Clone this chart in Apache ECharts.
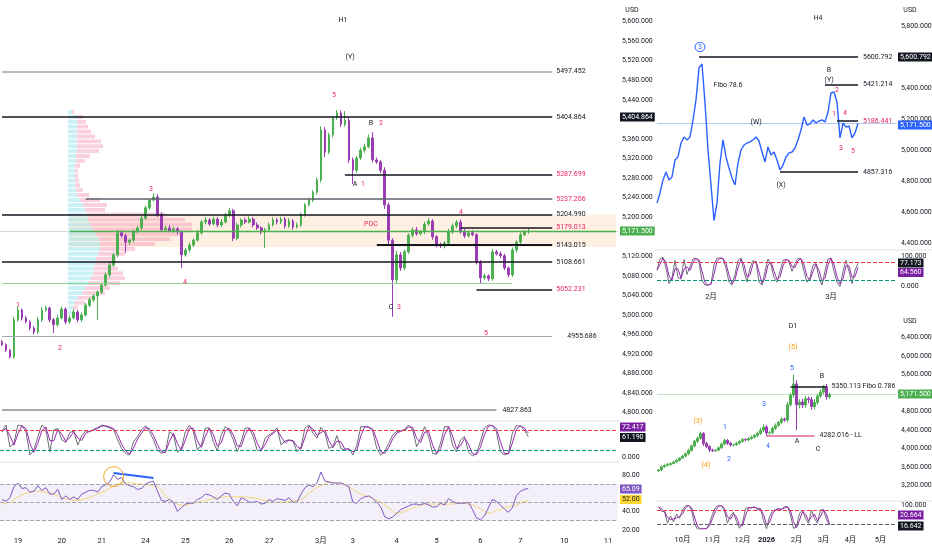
<!DOCTYPE html>
<html><head><meta charset="utf-8">
<script src="https://cdn.jsdelivr.net/npm/echarts@6.0.0/dist/echarts.min.js"></script>
<style>html,body{margin:0;padding:0;background:#fff;}#chart{width:932px;height:550px;}</style>
</head><body><div id="chart"></div>
<script>
// ================= DATA =================
// H1 (each bar ~2h), opens follow previous close
const h1FirstOpen = 4945;
const h1Close = [4939,4928,4914,4990,5010,4994,4986,4973,4965,4990,
 5010,5014,4990,4980,4994,5012,4986,4994,5006,4990,
 5000,5020,5031,5039,5047,5061,5082,5102,5123,5168,
 5162,5149,5153,5170,5178,5198,5219,5235,5241,5205,
 5174,5178,5172,5176,5170,5123,5133,5143,5153,5168,
 5190,5194,5186,5196,5184,5190,5204,5213,5157,5184,
 5194,5190,5196,5184,5178,5170,5174,5184,5194,5190,
 5196,5182,5192,5180,5184,5206,5225,5235,5251,5276,
 5378,5333,5368,5403,5413,5390,5398,5317,5296,5321,
 5337,5344,5362,5317,5313,5296,5225,5153,5072,5123,
 5096,5129,5163,5174,5166,5170,5186,5192,5160,5143,
 5141,5147,5170,5182,5190,5170,5162,5168,5164,5108,
 5076,5080,5074,5129,5125,5121,5096,5082,5133,5149,
 5164,5170,5171.5];
const h1UpWick = [4,3,2,6,8,3,4,3,4,5, 6,5,3,4,6,5,3,5,6,4, 5,4,5,4,3,4,5,4,3,6, 5,4,3,5,4,5,4,3,8,6,
 5,4,6,5,4,3,4,5,4,6, 5,6,4,5,4,6,5,6,4,5, 4,5,6,4,5,3,4,5,6,4, 5,4,6,4,5,3,4,5,4,5,
 8,6,5,4,6,5,19,6,5,4, 5,6,7,12,5,4,6,5,4,8, 6,5,4,5,6,4,5,6,4,3, 5,4,6,5,4,5,6,4,5,3,
 4,5,3,6,4,5,4,3,5,4, 5,4,6];
const h1LowWick = [3,4,3,3,4,5,3,4,5,3, 4,3,5,17,4,3,5,4,3,5, 4,3,4,5,49,4,3,5,4,5, 4,22,5,4,3,5,4,4,3,5,
 4,5,3,4,5,27,4,5,4,3, 4,5,4,3,5,4,3,4,6,4, 5,4,3,5,4,5,33,4,3,5, 4,5,4,6,3,4,5,3,4,5,
 5,10,4,5,4,6,5,6,28,5, 4,5,3,5,4,6,8,10,76,8, 6,5,4,5,4,3,5,4,6,5, 4,5,3,4,5,4,5,4,3,5,
 11,4,5,4,3,5,4,5,4,5, 4,3,4];
const h1TickSlot = [4,15,25,36,46,57,67,80,88,99,109,120,130,141,152];
const h1TickText = ['19','20','21','24','25','26','27','3月','3','4','5','6','7','10','11'];
const h1StochK = [77,97,31,42,97,94,77,6,21,62, 97,84,16,82,86,52,44,74,79,36, 64,79,77,84,89,97,93,88,83,52,
 26,11,6,47,62,82,95,77,52,21, 11,16,77,67,14,26,77,97,77,21, 36,88,88,47,18,67,92,82,52,16,
 47,88,88,62,21,18,57,67,75,88, 36,49,52,47,16,31,88,97,72,57, 90,72,26,31,65,26,21,26,6,36,
 92,92,90,77,26,6,16,42,67,77, 79,84,97,82,31,57,92,62,11,8, 42,92,92,36,16,52,62,16,3,11,
 47,88,97,95,77,16,6,11,72,95, 94,82,61.19];
const h1StochD = [77,87,64,36,70,95,86,42,14,42, 80,91,50,49,84,69,48,59,77,58, 50,72,78,81,87,93,95,91,86,68,
 39,19,9,27,55,72,89,86,65,37, 16,14,47,72,41,20,52,87,87,49, 29,62,88,68,33,43,80,87,67,34,
 32,68,88,75,42,20,38,62,71,82, 62,43,51,50,32,24,60,93,85,65, 74,81,49,29,48,46,24,24,16,21,
 64,92,91,84,52,16,11,29,55,72, 78,82,91,90,57,44,75,77,37,10, 25,67,92,64,26,34,57,39,10,7,
 29,68,93,96,86,47,11,9,42,84, 95,88,72.417];
const h1Rsi = [53,51,55,67,71,65,66,61,62,68, 63,66,59,59,64,53,57,53,56,53, 59,61,63,63,61,67,69,72,80,75,
 77,70,68,67,64,65,70,72,73,62, 52,51,53,50,40,44,48,49,49,53, 55,59,58,56,53,57,60,59,51,46,
 55,53,50,50,51,48,49,53,51,54, 53,52,55,50,50,59,66,69,67,71, 83,73,72,71,71,71,69,67,50,49,
 54,56,57,54,50,45,34,32,34,38, 42,44,46,48,48,47,49,47,45,45, 49,47,54,51,49,49,49,50,42,33,
 31,35,44,53,51,47,43,39,44,57, 62,64,65.09];
const h1RsiMa = [48,49,50,53,56,58,60,61,62,62, 62,61,60,59,57,55,54,53,52,52, 53,54,55,57,59,61,63,65,68,70,
 71,71,71,71,70,70,69,69,68,67, 63,57,53,50,48,47,47,48,49,50, 51,52,53,54,55,55,56,56,56,56,
 56,56,55,55,54,53,52,50,50,50, 50,50,51,51,52,53,56,60,63,66, 68,70,72,72,71,71,70,67,64,61,
 59,57,56,54,52,50,47,44,40,38, 39,40,42,44,45,47,48,48,48,48, 48,48,48,48,49,49,49,48,47,45,
 43,40,38,39,41,42,44,45,46,47, 49,51,52];
const rsiTrend = [[28,82],[38,76.5]];
const rsiCircle = [28,78];
const h1LevelPrice = [5497.452,5404.864,5287.699,5237.206,5204.990,5179.013,5143.015,5108.661,5052.231,4955.686,4806];
const h1LevelText = ['5497.452','5404.864','5287.699','5237.206','5204.990','5179.013','5143.015','5108.661','5052.231','4955.686','4827.863'];
const h1LevelFrom = [0,0,86,21,0,115,94,0,119,0,0];
const h1LevelTo = [138,138,138,138,138,138,138,138,138,138,124];
const h1Poc = 5170.6, h1LowGreen = 5065, h1ValueHigh = 5205, h1ValueLow = 5139;
const lastPrice = 5171.5;
const profilePrice = [5415,5405,5395,5385,5375,5365,5355,5345,5335,5325,5315,5305,5295,5285,5275,5265,5255,5245,5235,5225,5215,
 5205,5195,5185,5175,5165,5155,5145,5135,5125,5115,5105,5095,5085,5075,5065,5055,5045,5035,5025,5015,5005];
const profileBuy = [4,9,9,9,9,9,9,9,9,8,8,7,7,7,7,7,8,9,12,15,17,19,20,22,25,28,31,32,32,30,28,27,26,25,23,20,17,14,10,7,5,4];
const profileSell = [2,6,9,11,14,18,24,26,22,14,9,5,3,3,4,5,7,12,20,24,20,78,97,102,99,84,71,55,35,27,20,17,24,30,34,32,25,23,17,10,5,1];

// H4
const h4Close = [4658,4723,4807,4858,4807,4826,4936,4955,5045,5084,
 5065,5084,5194,5323,5530,5555,5303,5000,4774,4545,
 4658,4916,5065,4955,4884,4820,4774,4916,5000,5032,
 5045,5052,5065,5084,5058,4987,4923,5020,4968,4987,
 4936,4871,4903,4955,4981,4987,5013,5065,5129,5213,
 5161,5168,5194,5174,5187,5194,5181,5245,5368,5374,
 5310,5078,5174,5148,5155,5078,5110,5171.5];
const h4StochK = [55,92,98,62,10,30,87,30,25,90, 41,67,92,95,82,20,5,5,10,72, 95,95,92,62,15,5,41,87,95,51,
 15,62,87,82,15,5,51,92,72,30, 15,51,87,92,82,51,77,95,92,51, 15,30,72,77,30,5,51,92,95,51, 15,0,51,87,51,10,55,77.173];
const h4StochD = [55,74,95,80,36,20,59,59,28,58, 66,54,80,94,89,51,13,5,8,41, 84,95,94,77,39,10,23,64,91,73,
 33,39,75,85,49,10,28,72,82,51, 23,33,69,90,87,67,64,86,94,72, 33,23,51,75,54,18,28,72,94,73, 33,8,26,69,69,31,33,64.56];
const h4TickSlot = [18,58];
const h4TickText = ['2月','3月'];
const h4LevelPrice = [5600.792,5421.214,5186.441,4857.316];
const h4LevelText = ['5600.792','5421.214','5186.441','4857.316'];
const h4LevelFrom = [14,56,60,41];
const h4LevelTo = [67,67,67,67];

// D1 (each bar ~2 sessions)
const d1FirstOpen = 3520;
const d1Close = [3540,3610,3640,3660,3680,3712,3750,3795,3840,3890,
 3960,4060,4160,4225,4330,4110,4050,3972,3957,3970,
 4020,4100,4180,4120,4080,4085,4120,4155,4200,4190,
 4220,4250,4285,4330,4400,4470,4340,4345,4440,4505,
 4570,4640,4620,4950,5160,5400,4950,5010,4945,5080,
 5060,4910,5000,5139,5225,5340,5120,5171.5];
const d1UpWick = [20,25,20,30,20,25,30,20,25,30, 40,30,35,40,38,30,40,25,30,20, 30,35,40,30,25,20,30,35,30,25,
 30,35,30,40,50,60,40,30,35,40, 30,40,35,60,50,200,80,60,70,60, 50,60,70,50,60,38,60,40];
const d1LowWick = [20,25,20,25,30,20,25,30,20,25, 30,25,30,35,30,50,40,45,30,25, 30,25,30,40,30,35,25,30,25,30,
 30,25,30,35,30,40,60,40,30,35, 30,35,40,50,40,60,548,80,70,60, 80,70,60,50,40,50,60,50];
const d1StochK = [93,74,72,24,54,30,62,44,79,96, 99,79,21,0,0,2,1,24,62,90, 100,96,76,24,57,70,30,3,24,86,
 90,88,93,79,85,35,1,51,74,81, 85,81,93,93,58,3,8,65,79,44, 24,79,44,24,79,81,39,16.642];
const d1StochD = [93,84,73,48,39,42,46,53,62,88, 98,89,50,11,0,1,2,13,43,76, 95,98,86,50,41,64,50,17,14,55,
 88,89,91,86,82,60,18,26,63,78, 83,83,87,93,76,31,6,37,72,62, 34,52,62,34,52,80,60,20.664];
const d1TickSlot = [8,18,28,36,46,55,64,74];
const d1TickText = ['10月','11月','12月','2026','2月','3月','4月','5月'];
const d1LevelPrice = [5350.113,4282.016];
const d1LevelText = ['5350.113 Fibo 0.786','4282.016 - LL'];
const d1LevelFrom = [44,36];
const d1LevelTo = [56,52];

// ================= RENDER =================
const FONT = 'Roboto, "Noto Sans CJK SC", "Noto Sans", sans-serif';
const TXT = '#131722', RED = '#e91e63', ORANGE = '#ff9800', BLUE = '#2962ff', GREEN = '#4caf50', PURPLE = '#9c27b0', DOWN = '#9c3cb5', KGRAY = '#6a6d78';
const fmt3 = v => v.toLocaleString('en-US', {minimumFractionDigits:3, maximumFractionDigits:3});
function cats(n, slots, texts){ const a=[]; for(let i=0;i<n;i++) a.push(''); slots.forEach((s,j)=>{a[s]=texts[j];}); return a; }
function ohlc(closes, firstOpen, up, low){
  return closes.map((c,i)=>{ const o = i===0 ? firstOpen : closes[i-1]; return [o, c, Math.min(o,c)-low[i], Math.max(o,c)+up[i]]; });
}
function seg(price, from, to, text, textColor, lineColor, width, dist){
  return [{coord:[from,price], lineStyle:{color:lineColor,width:width,type:'solid'},
    label:{show:!!text, position:'end', formatter:text||'', color:textColor, fontSize:7, fontFamily:FONT, distance:dist}},
    {coord:[to,price]}];
}
function hline(v, color, type, width){ return {yAxis:v, lineStyle:{color:color, type:type, width:width||1}, label:{show:false}}; }

const h1Cats = cats(155, h1TickSlot, h1TickText);
const h4Cats = cats(81, h4TickSlot, h4TickText);
const d1Cats = cats(80, d1TickSlot, d1TickText);

const lvTextColor = [TXT,TXT,RED,RED,TXT,RED,TXT,TXT,RED,TXT,TXT];
const lvLineColor = ['#a3a6af',TXT,TXT,'#5d606b',TXT,TXT,TXT,TXT,TXT,'#a3a6af','#8a8d96'];
const lvWidth = [1.5,1.5,1.5,1.5,1.5,1.5,2,1.5,1.5,1,1.5];
const lvGap = [4,4,4,4,4,4,4,4,4,15,6];
const h1Lines = h1LevelPrice.map((p,i)=>seg(p,h1LevelFrom[i],h1LevelTo[i],h1LevelText[i],lvTextColor[i],lvLineColor[i],lvWidth[i],lvGap[i]));
h1Lines.push(seg(h1Poc,17,154,'',TXT,GREEN,1.3,4));
h1Lines.push(seg(h1LowGreen,0,128,'',TXT,'#8fd18f',1,4));
h1Lines.unshift(hline(lastPrice,'#d6d9e0','solid',1));

const h4Lines = h4LevelPrice.map((p,i)=>seg(p,h4LevelFrom[i],h4LevelTo[i],h4LevelText[i], i===2?RED:TXT, TXT, 1.5, 5));
h4Lines.unshift(hline(lastPrice,'rgba(41,98,255,0.35)','solid',1));
const d1Lines = d1LevelPrice.map((p,i)=>seg(p,d1LevelFrom[i],d1LevelTo[i],d1LevelText[i], TXT, i===0?TXT:'#e0609a', 1.5, 5));
d1Lines.unshift(hline(lastPrice,'rgba(76,175,80,0.35)','solid',1));

const PROFILE_LEFT = 68;
const profileRows = profilePrice.map((p,i)=>[p, profileBuy[i], profileSell[i]]);
function renderProfile(params, api){
  const p = api.value(0), b = api.value(1), s = api.value(2);
  const yTop = api.coord([0, p + 4])[1], yBot = api.coord([0, p - 4])[1];
  const x0 = api.coord([PROFILE_LEFT, p])[0];
  const x1 = api.coord([PROFILE_LEFT + b, p])[0];
  const x2 = api.coord([PROFILE_LEFT + b + s, p])[0];
  return {type:'group', children:[
    {type:'rect', shape:{x:x0, y:yTop, width:x1-x0, height:yBot-yTop}, style:{fill:'rgba(128,222,234,0.42)'}},
    {type:'rect', shape:{x:x1, y:yTop, width:x2-x1, height:yBot-yTop}, style:{fill:'rgba(244,143,177,0.42)'}}
  ]};
}

const noAxis = {axisLine:{show:false}, axisTick:{show:false}, splitLine:{show:false}};
function catAxis(gi, data, bg, labelOpt){
  return Object.assign({type:'category', gridIndex:gi, data:data, boundaryGap:bg}, noAxis,
    labelOpt ? {axisLabel:Object.assign({interval:0, fontSize:7.5, color:TXT, fontFamily:FONT}, labelOpt)} : {axisLabel:{show:false}});
}
function valAxis(gi, min, max, interval, fmt, margin){
  return Object.assign({type:'value', gridIndex:gi, position:'right', min:min, max:max, interval:interval}, noAxis,
    {axisLabel: fmt ? {show:true, fontSize:7, color:TXT, fontFamily:FONT, margin:margin, formatter:fmt} : {show:false}});
}
const G = (l,t,w,h) => ({left:l, top:t, width:w, height:h, outerBoundsMode:'none', containLabel:false});
const candleStyle = {color:GREEN, color0:DOWN, borderColor:GREEN, borderColor0:DOWN, borderWidth:1};
const stochMarks = (lowColor) => ({symbol:['none','none'], silent:true, data:[hline(80,'#f23645','dashed',1), hline(20,lowColor,'dashed',1)]});
const lineS = (xi, data, color, w, extra) => Object.assign({type:'line', xAxisIndex:xi, yAxisIndex:xi, data:data, symbol:'none', silent:true,
  lineStyle:{color:color, width:w}, itemStyle:{color:color}}, extra||{});

const option = {
  animation:false,
  backgroundColor:'#ffffff',
  grid:[G(0,2,618,430.3), G(0,424,618,33), G(0,465.6,618,69.7), G(0,2,618,430.3),
        G(657,26,240,217), G(657,256.6,240,30), G(657,337.7,240,148), G(657,505,240,24)],
  xAxis:[
    catAxis(0,h1Cats,true), catAxis(1,h1Cats,true), catAxis(2,h1Cats,true,{margin:2}),
    {type:'value', gridIndex:3, min:0, max:618, show:false},
    catAxis(4,h4Cats,false), catAxis(5,h4Cats,false,{margin:7}),
    catAxis(6,d1Cats,true), catAxis(7,d1Cats,true,{margin:7, formatter:v => v==='2026' ? '{b|2026}' : v, rich:{b:{fontWeight:'bold', fontSize:7.5, color:TXT, fontFamily:FONT}}})
  ],
  yAxis:[
    valAxis(0,4760,5640,40, v=>{const r=Math.round(v); return (r<4800||r>5600||r===5400||r===5160)?'':fmt3(r);}, 4),
    valAxis(1,0,100,100, v=>Math.round(v)===0?'0.000':'', 4),
    valAxis(2,14,90,2, v=>{const r=Math.round(v); return (r===20||r===40||r===80)?r.toFixed(2):'';}, 4),
    {type:'value', gridIndex:3, min:4760, max:5640, show:false},
    valAxis(4,4400,5800,200, v=>{const r=Math.round(v); return r===5600?'':fmt3(r);}, 4),
    valAxis(5,0,100,100, v=>fmt3(Math.round(v)), 4),
    valAxis(6,3200,6400,400, v=>{const r=Math.round(v); return r===5200?'':fmt3(r);}, 4),
    valAxis(7,0,100,100, v=>Math.round(v)===100?'100.000':'', 4)
  ],
  series:[
    {type:'custom', xAxisIndex:3, yAxisIndex:3, z:2, silent:true, data:profileRows, renderItem:renderProfile},
    {type:'candlestick', xAxisIndex:0, yAxisIndex:0, z:3, data:ohlc(h1Close,h1FirstOpen,h1UpWick,h1LowWick), barWidth:2.2, silent:true, itemStyle:candleStyle,
      markArea:{silent:true, z:1, itemStyle:{color:'rgba(250,222,190,0.45)'}, data:[[{coord:[17,h1ValueHigh]},{coord:[154,h1ValueLow]}]]},
      markLine:{symbol:['none','none'], silent:true, z:6, data:h1Lines}},
    lineS(1, h1StochK, KGRAY, 1),
    lineS(1, h1StochD, PURPLE, 1, {markLine:stochMarks('#089981')}),
    lineS(2, h1RsiMa, '#f3d77a', 1),
    lineS(2, h1Rsi, '#7e57c2', 1, {
      markArea:{silent:true, itemStyle:{color:'rgba(126,87,194,0.09)'}, data:[[{yAxis:30},{yAxis:70}]]},
      markLine:{symbol:['none','none'], silent:true, data:[hline(70,'#a3a6af','dashed',1), hline(50,'#a3a6af','dashed',1), hline(30,'#a3a6af','dashed',1),
        [{coord:rsiTrend[0], lineStyle:{color:BLUE,width:2,type:'solid'}, label:{show:false}},{coord:rsiTrend[1]}]]},
      markPoint:{silent:true, data:[{coord:rsiCircle, symbol:'circle', symbolSize:20, itemStyle:{color:'rgba(0,0,0,0)', borderColor:'#f5a623', borderWidth:1}, label:{show:false}}]}
    }),
    lineS(4, h4Close, BLUE, 1.4, {markLine:{symbol:['none','none'], silent:true, data:h4Lines}}),
    lineS(5, h4StochK, KGRAY, 1),
    lineS(5, h4StochD, PURPLE, 1, {markLine:stochMarks('#089981')}),
    {type:'candlestick', xAxisIndex:6, yAxisIndex:6, data:ohlc(d1Close,d1FirstOpen,d1UpWick,d1LowWick), barWidth:1.8, silent:true, itemStyle:candleStyle,
      markLine:{symbol:['none','none'], silent:true, data:d1Lines}},
    lineS(7, d1StochK, KGRAY, 1),
    lineS(7, d1StochD, PURPLE, 1, {markLine:stochMarks('#5d606b')})
  ]
};

// annotations (text)
const notes = [
 [343,20,'H1',TXT],[350,57,'(Y)',TXT],[334,95,'5',RED],[371,123,'B',TXT],[381,123,'2',RED],
 [355,184,'A',TXT],[363,184,'1',RED],[151,189,'3',RED],[461,212,'4',RED],[371,224,'POC',RED],
 [185,282,'4',RED],[18,305,'1',RED],[391,307,'C',TXT],[399,307,'3',RED],[60,348,'2',RED],[486,333,'5',RED],
 [818,18,'H4',TXT],[728,85,'Fibo 78.6',TXT],[756,122,'(W)',TXT],[781,185,'(X)',TXT],[829,70,'B',TXT],[829,80,'(Y)',TXT],
 [837,90,'2',RED],[834,114,'1',RED],[845,113,'4',RED],[841,148,'3',RED],[853,151,'5',RED],
 [793,326,'D1',TXT],[793,347,'(5)',ORANGE],[792,368,'5',BLUE],[822,376,'B',TXT],[698,421,'(3)',ORANGE],
 [725,427,'1',BLUE],[764,404,'3',BLUE],[797,441,'A',TXT],[768,446,'4',BLUE],[729,459,'2',BLUE],[818,449,'C',TXT],[706,465,'(4)',ORANGE],
 [632,10,'USD',TXT],[910,10,'USD',TXT],[910,321,'USD',TXT]
];
const boxes = [
 [620,117,'5,404.864','#131722','#fff'],[620,231,'5,171.500',GREEN,'#fff'],
 [620,427,'72.417','#7b1fa2','#fff'],[620,437.5,'61.190','#131722','#fff'],
 [620,489,'65.09','#7e57c2','#fff'],[620,499.5,'52.00','#fdd835','#131722'],
 [898,57,'5,600.792','#131722','#fff'],[898,125,'5,171.500',BLUE,'#fff'],
 [898,263,'77.173','#131722','#fff'],[898,272.5,'64.560','#7b1fa2','#fff'],
 [898,394,'5,171.500',GREEN,'#fff'],
 [898,515,'20.664','#7b1fa2','#fff'],[898,526,'16.642','#131722','#fff']
];
const sepLines = [[0,421,620,421],[0,462,620,462],[655,250,932,250],[655,501,932,501]];
const graphic = [];
sepLines.forEach(s=>graphic.push({type:'line', silent:true, z:0, shape:{x1:s[0],y1:s[1],x2:s[2],y2:s[3]}, style:{stroke:'#e0e3eb', lineWidth:1}}));
notes.forEach(n=>graphic.push({type:'text', x:n[0], y:n[1], z:100, silent:true,
  style:{text:n[2], fill:n[3], fontSize:7, fontFamily:FONT, align:'center', verticalAlign:'middle'}}));
graphic.push({type:'text', x:700, y:47, z:100, silent:true, style:{text:'3', fill:BLUE, fontSize:7, fontFamily:FONT, align:'center', verticalAlign:'middle',
  borderColor:BLUE, borderWidth:1, borderRadius:6, padding:[1,3,1,3]}});
boxes.forEach(b=>graphic.push({type:'text', x:b[0], y:b[1], z:110, silent:true,
  style:{text:b[2], fill:b[4], backgroundColor:b[3], padding:[1,2,1,2], fontSize:7, fontFamily:FONT, align:'left', verticalAlign:'middle'}}));
option.graphic = graphic;

const chart = echarts.init(document.getElementById('chart'), null, {renderer:'canvas'});
chart.setOption(option);
</script></body></html>
